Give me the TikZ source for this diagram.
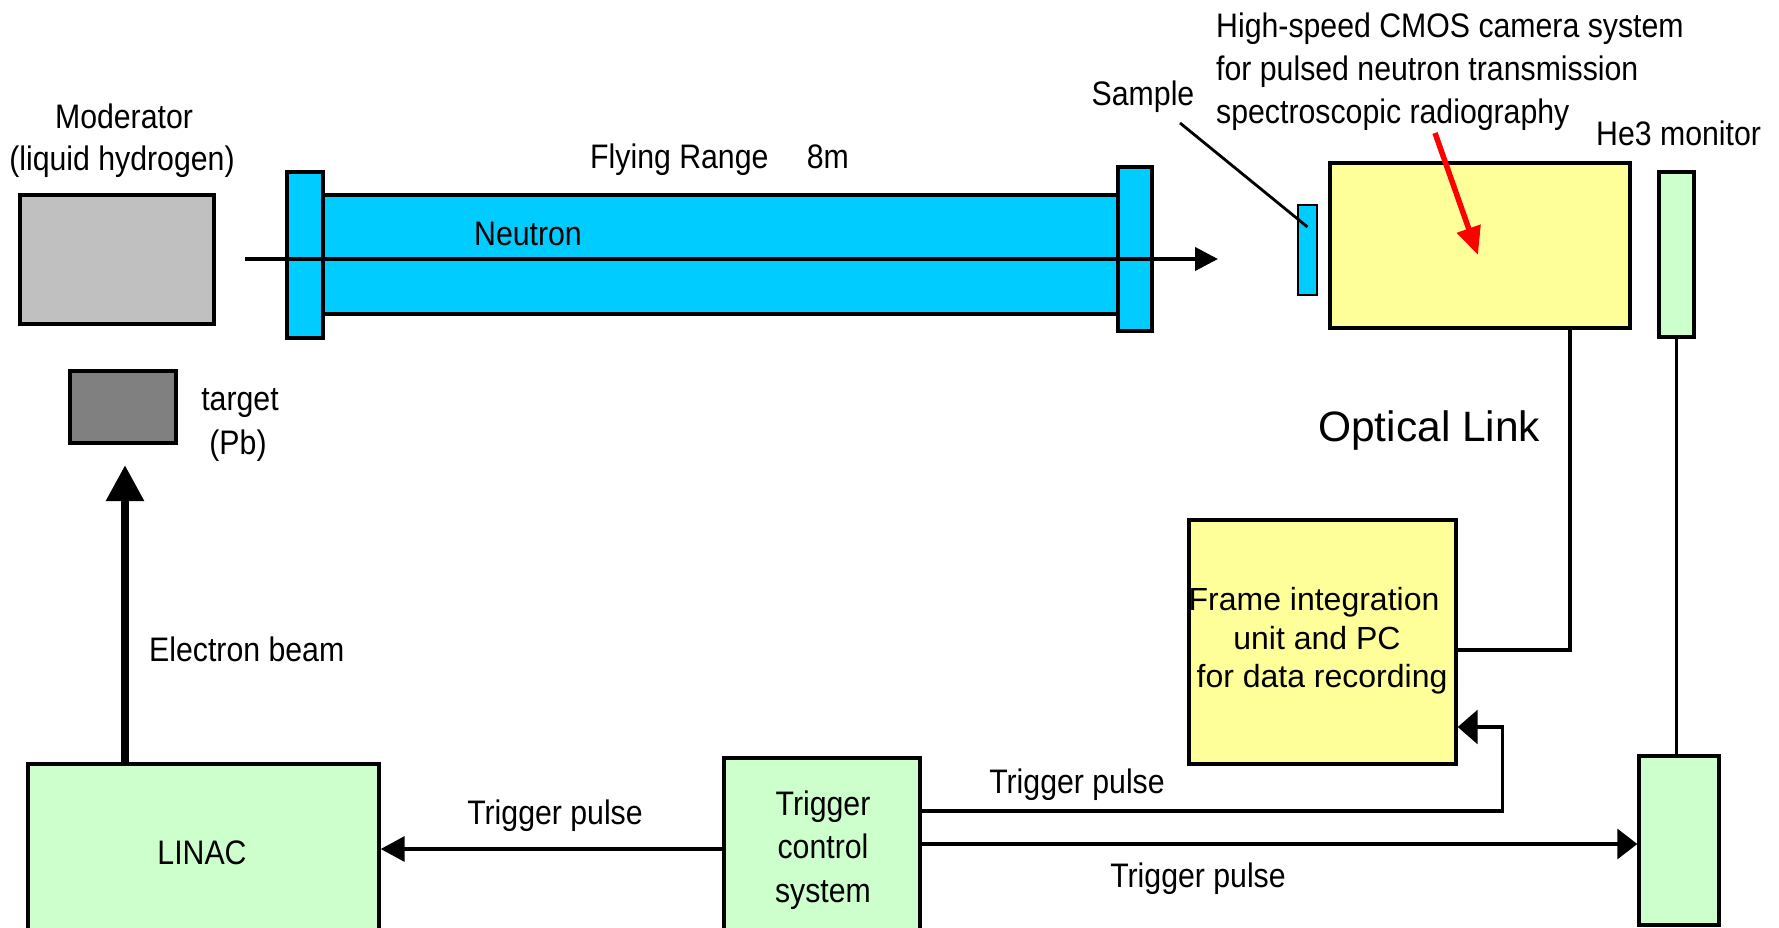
\documentclass[tikz,border=0pt]{standalone}
\usepackage{fontspec}
\setmainfont{Liberation Sans}
\newfontfamily\narrowsans[FakeStretch=0.89]{Liberation Sans}
\usetikzlibrary{arrows.meta}

\definecolor{tubeblue}{HTML}{00CCFF}
\definecolor{modgray}{HTML}{C0C0C0}
\definecolor{tgtgray}{HTML}{808080}
\definecolor{paleyellow}{HTML}{FFFF99}
\definecolor{palegreen}{HTML}{CCFFCC}

\tikzset{
  box/.style={draw, line width=3.4pt, inner sep=0pt},
  conn/.style={line width=3.4pt},
  arr/.style={conn, -{Triangle[length=24pt,width=25pt]}},
  ebeam/.style={line width=8.5pt, -{Triangle[length=36pt,width=36pt]}},
  redarrow/.style={red, line width=5.5pt, -{Triangle[length=28pt,width=24pt]}},
  lbl/.style={font=\narrowsans\fontsize{34}{43}\selectfont, inner sep=0pt},
  plainlbl/.style={font=\fontsize{32}{39}\selectfont, inner sep=0pt},
  biglbl/.style={font=\fontsize{42.5}{50}\selectfont, inner sep=0pt},
}

\begin{document}
\begin{tikzpicture}[x=1pt, y=-1pt]
\useasboundingbox[fill=white] (0,0) rectangle (1779,928);

% source side
\node[box, fill=modgray, minimum width=194pt, minimum height=129pt] (moderator) at (117,259.5) {};
\node[box, fill=tgtgray, minimum width=106pt, minimum height=72pt] (target) at (123,407) {};

% flight tube with flanges
\node[box, fill=tubeblue, minimum width=795pt, minimum height=119pt] (tube) at (720.5,254.5) {};
\node[box, fill=tubeblue, minimum width=36pt, minimum height=166pt] (flangeL) at (305,255) {};
\node[box, fill=tubeblue, minimum width=34pt, minimum height=164pt] (flangeR) at (1135,249) {};

% detector side
\node[box, line width=2.8pt, fill=tubeblue, minimum width=19pt, minimum height=90pt] (sample) at (1307.5,250) {};
\node[box, fill=paleyellow, minimum width=300pt, minimum height=165pt] (camera) at (1480,245.5) {};
\node[box, fill=palegreen, minimum width=35pt, minimum height=165pt] (he3) at (1676.5,254.5) {};
\node[box, fill=palegreen, minimum width=80pt, minimum height=169pt] (he3low) at (1679,840.5) {};
\node[box, fill=paleyellow, minimum width=267pt, minimum height=244pt] (frame) at (1322.5,642) {};

% accelerator and trigger
\node[box, fill=palegreen, minimum width=351pt, minimum height=176pt] (linac) at (203.5,852) {};
\node[box, fill=palegreen, minimum width=196pt, minimum height=182pt] (trigger) at (822,849) {};

% neutron beam axis
\coordinate (beamstart) at (245,259);
\coordinate (beamend) at (1218,259);
\draw[line width=4pt, -{Triangle[length=23pt,width=23pt]}] (beamstart) -- (beamend);

% electron beam
\coordinate (etip) at (125,465);
\draw[ebeam] (etip |- linac.north) -- (etip);

% sample pointer and camera pointer
\coordinate (sampleptr) at (1180,123);
\draw[line width=2.8pt] (sampleptr) -- ([yshift=23pt]sample.center);
\coordinate (camptr) at (1435,133);
\draw[redarrow] (camptr) -- ([xshift=-2pt,yshift=-9.5pt]camera.center);

% signal lines
\draw[conn] ([xshift=90pt]camera.south) |- ([yshift=-8pt]frame.east);
\draw[conn] (he3.south) -- (he3.south |- he3low.north);
\draw[arr] (trigger.west) -- (trigger.west -| linac.east);
\draw[arr, -{Triangle[length=20pt,width=34pt]}] ([yshift=38pt]trigger.east) -| ([xshift=45pt,yshift=-85pt]frame.east) -- ([yshift=-85pt]frame.east);
\draw[arr, -{Triangle[length=20pt,width=30pt]}] ([yshift=5pt]trigger.east) coordinate (tb) -- (tb -| he3low.west);

% labels
\node[lbl, anchor=base] (modlbl) at (124,129) {Moderator};
\node[lbl, anchor=base] (modlbl2) at (122,171) {(liquid hydrogen)};
\node[lbl, anchor=base] (tgtlbl) at (240,410) {target};
\node[lbl, anchor=base] (tgtlbl2) at (238,454) {(Pb)};
\node[lbl, anchor=base west] (flylbl) at (590,169) {Flying Range\hspace{30pt} 8m};
\node[lbl, anchor=base] (neulbl) at (528,245) {Neutron};
\node[lbl, anchor=base] (samplbl) at (1143,106) {Sample};
\node[lbl, anchor=base west] (camlbl1) at (1216,38) {High-speed CMOS camera system};
\node[lbl, anchor=base west] (camlbl2) at (1216,81) {for pulsed neutron transmission};
\node[lbl, anchor=base west] (camlbl3) at (1216,124) {spectroscopic radiography};
\node[lbl, anchor=base west] (he3lbl) at (1596,146) {He3 monitor};
\node[lbl, anchor=base west] (elbl) at (149,661) {Electron beam};
\node[lbl, anchor=base] (linaclbl) at (202,864) {LINAC};
\node[lbl, anchor=base] (tplbl1) at (555,824) {Trigger pulse};
\node[lbl, anchor=base] (tplbl2) at (1077,793) {Trigger pulse};
\node[lbl, anchor=base] (tplbl3) at (1198,887) {Trigger pulse};
\node[lbl, anchor=base] (trglbl1) at (823,815) {Trigger};
\node[lbl, anchor=base] (trglbl2) at (823,858) {control};
\node[lbl, anchor=base] (trglbl3) at (823,902) {system};
\node[biglbl, anchor=base west] (optlbl) at (1318,441) {Optical Link};
\node[plainlbl, anchor=base] (frlbl1) at (1314,610) {Frame integration};
\node[plainlbl, anchor=base] (frlbl2) at (1317,649) {unit and PC};
\node[plainlbl, anchor=base] (frlbl3) at (1322,687) {for data recording};
\end{tikzpicture}
\end{document}
